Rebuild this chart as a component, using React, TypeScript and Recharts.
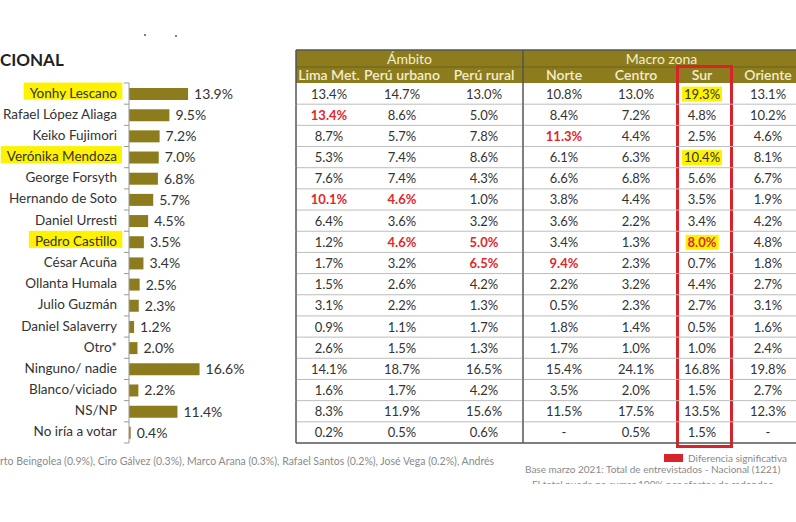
import React, { useLayoutEffect, useRef, useState } from 'react';
import { BarChart, Bar, XAxis, YAxis, LabelList, Customized } from 'recharts';

// ---------- data ----------
const candidates = [
  'Yonhy Lescano', 'Rafael López Aliaga', 'Keiko Fujimori', 'Verónika Mendoza', 'George Forsyth',
  'Hernando de Soto', 'Daniel Urresti', 'Pedro Castillo', 'César Acuña', 'Ollanta Humala',
  'Julio Guzmán', 'Daniel Salaverry', 'Otro*', 'Ninguno/ nadie', 'Blanco/viciado', 'NS/NP', 'No iría a votar',
];
const nationalValues = [13.9, 9.5, 7.2, 7.0, 6.8, 5.7, 4.5, 3.5, 3.4, 2.5, 2.3, 1.2, 2.0, 16.6, 2.2, 11.4, 0.4];
const highlightedNames = ['Yonhy Lescano', 'Verónika Mendoza', 'Pedro Castillo'];

const groupHeaders = ['Ámbito', 'Macro zona'];
const columnHeaders = ['Lima Met.', 'Perú urbano', 'Perú rural', 'Norte', 'Centro', 'Sur', 'Oriente'];
const limaMet = ['13.4%', '13.4%', '8.7%', '5.3%', '7.6%', '10.1%', '6.4%', '1.2%', '1.7%', '1.5%', '3.1%', '0.9%', '2.6%', '14.1%', '1.6%', '8.3%', '0.2%'];
const peruUrbano = ['14.7%', '8.6%', '5.7%', '7.4%', '7.4%', '4.6%', '3.6%', '4.6%', '3.2%', '2.6%', '2.2%', '1.1%', '1.5%', '18.7%', '1.7%', '11.9%', '0.5%'];
const peruRural = ['13.0%', '5.0%', '7.8%', '8.6%', '4.3%', '1.0%', '3.2%', '5.0%', '6.5%', '4.2%', '1.3%', '1.7%', '1.3%', '16.5%', '4.2%', '15.6%', '0.6%'];
const norte = ['10.8%', '8.4%', '11.3%', '6.1%', '6.6%', '3.8%', '3.6%', '3.4%', '9.4%', '2.2%', '0.5%', '1.8%', '1.7%', '15.4%', '3.5%', '11.5%', '-'];
const centro = ['13.0%', '7.2%', '4.4%', '6.3%', '6.8%', '4.4%', '2.2%', '1.3%', '2.3%', '3.2%', '2.3%', '1.4%', '1.0%', '24.1%', '2.0%', '17.5%', '0.5%'];
const sur = ['19.3%', '4.8%', '2.5%', '10.4%', '5.6%', '3.5%', '3.4%', '8.0%', '0.7%', '4.4%', '2.7%', '0.5%', '1.0%', '16.8%', '1.5%', '13.5%', '1.5%'];
const oriente = ['13.1%', '10.2%', '4.6%', '8.1%', '6.7%', '1.9%', '4.2%', '4.8%', '1.8%', '2.7%', '3.1%', '1.6%', '2.4%', '19.8%', '2.7%', '12.3%', '-'];
const tableColumns = [limaMet, peruUrbano, peruRural, norte, centro, sur, oriente];
// significant differences (row-col) and yellow-marked cells
const significantCells = ['1-0', '2-3', '5-0', '5-1', '7-1', '7-2', '7-5', '8-2', '8-3'];
const markedCells = ['0-5', '3-5', '7-5'];

const titleText = 'CIONAL';
const legendText = 'Diferencia significativa';
const baseText = 'Base marzo 2021: Total de entrevistados - Nacional (1221)';
const cutNoteText = 'El total puede no sumar 100% por efectos de redondeo';
const otherNote = 'rto Beingolea (0.9%), Ciro Gálvez (0.3%), Marco Arana (0.3%), Rafael Santos (0.2%), José Vega (0.2%), Andrés';

const chartData = candidates.map((name, i) => ({ name, value: nationalValues[i] }));

// ---------- layout / style ----------
const W = 796;
const H = 522;
const FONT = "Lato, 'Open Sans', sans-serif";
const OLIVE = '#8C7C1E';
const HEADER_TEXT = '#F4EDCB';
const RED = '#E3262B';
const YELLOW = '#FFF200';
const TEXT = '#333333';
const PLOT_TOP = 83;
const PLOT_BOTTOM = 443;
const N = candidates.length;
const BAND = (PLOT_BOTTOM - PLOT_TOP) / N;
const AXIS_X = 129;
const LABEL_END = 117;
const TABLE_LEFT = 296;
const TABLE_SPLIT = 523;
const TABLE_RIGHT = 800;
const HEADER_TOP = 50;
const HEADER_MID = 67;
const colCenters = [329, 402, 484, 564, 636, 702, 768];

function HighlightLabel({ y, text, highlight }: { y: number; text: string; highlight: boolean }) {
  const ref = useRef<SVGTextElement>(null);
  const [box, setBox] = useState<{ x: number; w: number } | null>(null);
  useLayoutEffect(() => {
    if (highlight && ref.current) {
      const b = ref.current.getBBox();
      setBox({ x: b.x, w: b.width });
    }
  }, [highlight, text]);
  return (
    <g>
      {highlight && box && <rect x={box.x - 6} y={y - 11} width={box.w + 11} height={17} fill={YELLOW} />}
      <text ref={ref} x={LABEL_END} y={y + 4} textAnchor="end" fontSize={13.5} fontFamily={FONT} fill={TEXT}>
        {text}
      </text>
    </g>
  );
}

function CellText({ x, y, text, red, marked }: { x: number; y: number; text: string; red: boolean; marked: boolean }) {
  const ref = useRef<SVGTextElement>(null);
  const [box, setBox] = useState<{ x: number; w: number } | null>(null);
  useLayoutEffect(() => {
    if (marked && ref.current) {
      const b = ref.current.getBBox();
      setBox({ x: b.x, w: b.width });
    }
  }, [marked, text]);
  return (
    <g>
      {marked && box && <rect x={box.x - 2} y={y - 7} width={box.w + 4} height={15} fill={YELLOW} />}
      <text
        ref={ref}
        x={x}
        y={y + 5}
        textAnchor="middle"
        fontSize={13}
        fontFamily={FONT}
        fontWeight={red ? 700 : 400}
        fill={red ? RED : TEXT}
      >
        {text}
      </text>
    </g>
  );
}

function RowTick(props: any) {
  const { y, payload } = props;
  const name = String(payload.value);
  const row = candidates.indexOf(name);
  const top = y - BAND / 2;
  const bottom = y + BAND / 2;
  const last = row === N - 1;
  return (
    <g>
      <line x1={AXIS_X - 5} x2={AXIS_X} y1={top} y2={top} stroke="#999" />
      {last && <line x1={AXIS_X - 5} x2={AXIS_X} y1={bottom} y2={bottom} stroke="#999" />}
      <HighlightLabel y={y} text={name} highlight={highlightedNames.includes(name)} />
      {/* table row */}
      <line x1={TABLE_LEFT} x2={TABLE_RIGHT} y1={bottom} y2={bottom} stroke={last ? '#555' : '#bdbdbd'} strokeWidth={last ? 1.5 : 1} />
      <line x1={TABLE_LEFT} x2={TABLE_LEFT} y1={top} y2={bottom} stroke="#555" strokeWidth={1.5} />
      <line x1={TABLE_SPLIT} x2={TABLE_SPLIT} y1={top} y2={bottom} stroke="#555" strokeWidth={1.5} />
      {tableColumns.map((col, c) => (
        <CellText
          key={c}
          x={colCenters[c]}
          y={y}
          text={col[row]}
          red={significantCells.includes(`${row}-${c}`)}
          marked={markedCells.includes(`${row}-${c}`)}
        />
      ))}
    </g>
  );
}

function Overlay() {
  return (
    <g fontFamily={FONT}>
      {/* title */}
      <text x={0} y={66} fontSize={17} fontWeight={700} fill="#222">{titleText}</text>
      <circle cx={145} cy={35} r={1} fill="#555" />
      <circle cx={176} cy={36} r={1} fill="#555" />
      {/* table header */}
      <rect x={TABLE_LEFT} y={HEADER_TOP} width={TABLE_RIGHT - TABLE_LEFT} height={PLOT_TOP - HEADER_TOP} fill={OLIVE} />
      <line x1={TABLE_LEFT} x2={TABLE_RIGHT} y1={HEADER_MID} y2={HEADER_MID} stroke="#6E611A" strokeWidth={1} />
      <line x1={TABLE_LEFT} x2={TABLE_RIGHT} y1={HEADER_TOP} y2={HEADER_TOP} stroke="#555" strokeWidth={1.5} />
      <line x1={TABLE_LEFT} x2={TABLE_LEFT} y1={HEADER_TOP} y2={PLOT_TOP} stroke="#555" strokeWidth={1.5} />
      <line x1={TABLE_SPLIT} x2={TABLE_SPLIT} y1={HEADER_TOP} y2={PLOT_TOP} stroke="#555" strokeWidth={1.5} />
      <text x={(TABLE_LEFT + TABLE_SPLIT) / 2} y={64} textAnchor="middle" fontSize={14} fill={HEADER_TEXT}>{groupHeaders[0]}</text>
      <text x={(TABLE_SPLIT + TABLE_RIGHT) / 2} y={64} textAnchor="middle" fontSize={14} fill={HEADER_TEXT}>{groupHeaders[1]}</text>
      {columnHeaders.map((h, i) => (
        <text key={h} x={colCenters[i]} y={80} textAnchor="middle" fontSize={14} fontWeight={600} fill={HEADER_TEXT}>{h}</text>
      ))}
      {/* Sur frame */}
      <rect x={677.5} y={66.5} width={54} height={380} fill="none" stroke="#D9232A" strokeWidth={3} />
      {/* legend and notes */}
      <rect x={664} y={454} width={19} height={8} fill="#D9232A" />
      <text x={688} y={462} fontSize={10} fill="#8a8a8a">{legendText}</text>
      <text x={525} y={473} fontSize={10} fill="#8a8a8a">{baseText}</text>
      <clipPath id="cutNote">
        <rect x={0} y={478} width={W} height={6} />
      </clipPath>
      <text x={532} y={488} fontSize={10} fill="#8a8a8a" clipPath="url(#cutNote)">{cutNoteText}</text>
      <text x={0} y={465} fontSize={10.5} fill="#8a8a8a">{otherNote}</text>
    </g>
  );
}

export default function App() {
  return (
    <div style={{ position: 'absolute', left: 0, top: 0, width: W, height: H, background: '#fff' }}>
      <BarChart
        width={W}
        height={H}
        data={chartData}
        layout="vertical"
        margin={{ top: PLOT_TOP, right: W - AXIS_X - 170, bottom: H - PLOT_BOTTOM, left: 0 }}
      >
        <XAxis type="number" domain={[0, 40]} hide />
        <YAxis
          type="category"
          dataKey="name"
          width={AXIS_X}
          interval={0}
          tickLine={false}
          axisLine={{ stroke: '#999' }}
          tick={<RowTick />}
        />
        <Customized component={<Overlay />} />
        <Bar dataKey="value" fill={OLIVE} barSize={12} isAnimationActive={false}>
          <LabelList
            dataKey="value"
            position="right"
            offset={6}
            formatter={(v: any) => `${Number(v).toFixed(1)}%`}
            style={{ fontSize: 14, fontFamily: FONT, fill: TEXT }}
          />
        </Bar>
      </BarChart>
    </div>
  );
}
